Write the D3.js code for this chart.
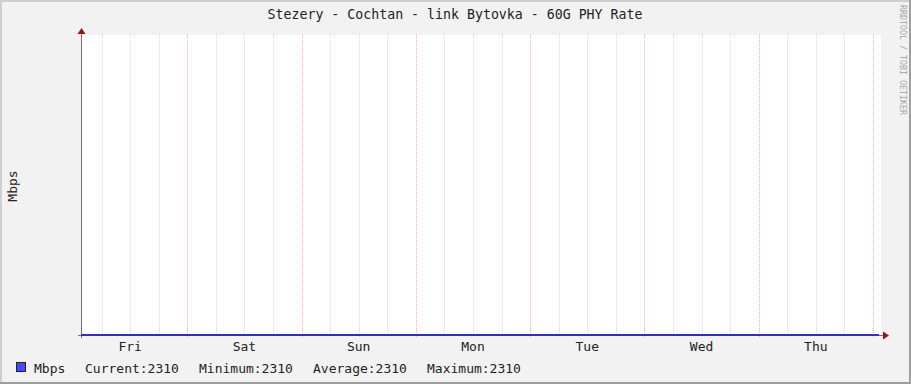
<!DOCTYPE html>
<meta charset="utf-8">

<head>
    <style>
        body {
            margin: 0;
            background: #fff;
        }

        svg {
            display: block;
        }

        text {
            font-family: "DejaVu Sans Mono", monospace;
            fill: #000;
        }
    </style>
    <script src="https://d3js.org/d3.v7.min.js"></script>
</head>

<body>
    <script>
        // chart data
        const title = "Stezery - Cochtan - link Bytovka - 60G PHY Rate"
        const yLabel = "Mbps"
        const dayLabels = ["Fri", "Sat", "Sun", "Mon", "Tue", "Wed", "Thu"]
        const sampleTimes = [
            "2024-01-05T01:41Z", "2024-01-06T01:41Z", "2024-01-07T01:41Z", "2024-01-08T01:41Z",
            "2024-01-09T01:41Z", "2024-01-10T01:41Z", "2024-01-11T01:41Z", "2024-01-12T01:15Z"
        ]
        const sampleValues = [2310, 2310, 2310, 2310, 2310, 2310, 2310, 2310]
        const timeDomain = ["2024-01-05T01:41Z", "2024-01-12T01:41Z"]
        const yDomain = [2310, 2320]
        const legendItems = ["Current:2310", "Minimum:2310", "Average:2310", "Maximum:2310"]

        const width = 911
        const height = 384
        const margin = { top: 35, right: 30, bottom: 49, left: 81 }
        const innerWidth = width - margin.left - margin.right
        const innerHeight = height - margin.top - margin.bottom

        const parse = d3.utcParse("%Y-%m-%dT%H:%MZ")
        const points = sampleTimes.map((t, i) => ({ t: parse(t), v: sampleValues[i] }))

        const x = d3.scaleUtc()
            .domain(timeDomain.map(parse))
            .range([0, innerWidth])

        const y = d3.scaleLinear()
            .domain(yDomain)
            .range([innerHeight, 0])

        const svg = d3.select("body").append("svg")
            .attr("width", width)
            .attr("height", height)

        // background + borders
        svg.append("rect").attr("width", width).attr("height", height).attr("fill", "#f2f2f2")
        svg.append("rect").attr("x", 0).attr("y", 0).attr("width", width).attr("height", 2).attr("fill", "#cfcfcf")
        svg.append("rect").attr("x", 0).attr("y", 0).attr("width", 2).attr("height", height).attr("fill", "#cfcfcf")
        svg.append("rect").attr("x", width - 2).attr("y", 0).attr("width", 2).attr("height", height).attr("fill", "#9e9e9e")
        svg.append("rect").attr("x", 0).attr("y", height - 2).attr("width", width).attr("height", 2).attr("fill", "#9e9e9e")

        svg.append("text")
            .attr("x", 455)
            .attr("y", 19)
            .attr("text-anchor", "middle")
            .style("font-size", "13.25px")
            .style("fill", "#222")
            .text(title)

        svg.append("text")
            .attr("transform", "translate(16.5,186) rotate(-90)")
            .attr("text-anchor", "middle")
            .style("font-size", "13px")
            .style("fill", "#222")
            .text(yLabel)

        svg.append("text")
            .attr("transform", "translate(900,5) rotate(90)")
            .style("font-size", "8.3px")
            .style("fill", "#a8a8a8")
            .text("RRDTOOL / TOBI OETIKER")

        const g = svg.append("g")
            .attr("transform", `translate(${margin.left},${margin.top})`)

        g.append("rect")
            .attr("width", innerWidth)
            .attr("height", innerHeight)
            .attr("fill", "#fff")

        // grid
        const minorTicks = x.ticks(d3.utcHour.every(6)).filter(d => d.getUTCHours() != 0)
        const majorTicks = x.ticks(d3.utcDay.every(1))

        g.selectAll(".minor")
            .data(minorTicks)
            .enter()
            .append("line")
            .attr("x1", d => Math.round(x(d)) + 0.5)
            .attr("x2", d => Math.round(x(d)) + 0.5)
            .attr("y1", -1)
            .attr("y2", innerHeight + 3)
            .attr("stroke", "#dadada")
            .attr("stroke-dasharray", "1,1")

        g.selectAll(".major")
            .data(majorTicks)
            .enter()
            .append("line")
            .attr("x1", d => Math.round(x(d)) + 0.5)
            .attr("x2", d => Math.round(x(d)) + 0.5)
            .attr("y1", -1)
            .attr("y2", innerHeight + 3)
            .attr("stroke", "#f4aaaa")
            .attr("stroke-dasharray", "1,1")

        // day labels at noon
        const noons = x.ticks(d3.utcDay.every(1)).map(d => d3.utcHour.offset(d, -12))
        g.selectAll(".day")
            .data(noons)
            .enter()
            .append("text")
            .attr("x", d => x(d))
            .attr("y", innerHeight + 16)
            .attr("text-anchor", "middle")
            .style("font-size", "13px")
            .style("fill", "#222")
            .text((d, i) => dayLabels[i])

        // axes
        g.append("line")
            .attr("x1", 0.5).attr("x2", 0.5)
            .attr("y1", -2).attr("y2", innerHeight + 3)
            .attr("stroke", "#707070")
        g.append("line")
            .attr("x1", -3).attr("x2", innerWidth + 3)
            .attr("y1", innerHeight + 0.5).attr("y2", innerHeight + 0.5)
            .attr("stroke", "#707070")

        // data line
        const line = d3.line()
            .x(d => x(d.t))
            .y(d => y(d.v))

        g.append("path")
            .datum(points)
            .attr("d", line)
            .attr("fill", "none")
            .attr("stroke", "#3030b8")
            .attr("stroke-width", 2)

        // arrows
        g.append("path")
            .attr("d", "M-3.5,-1 L4.5,-1 L0.5,-7 Z")
            .attr("fill", "#9b1010")
        g.append("path")
            .attr("d", `M${innerWidth + 2},${innerHeight - 3.5} L${innerWidth + 2},${innerHeight + 4.5} L${innerWidth + 8},${innerHeight + 0.5} Z`)
            .attr("fill", "#9b1010")

        // legend
        svg.append("rect")
            .attr("x", 16.5).attr("y", 362.5)
            .attr("width", 9).attr("height", 9)
            .attr("fill", "#4848ff")
            .attr("stroke", "#222")

        svg.append("text")
            .attr("x", 34)
            .attr("y", 373)
            .style("font-size", "13px")
            .style("fill", "#222")
            .text(yLabel)

        svg.selectAll(".leg")
            .data(legendItems)
            .enter()
            .append("text")
            .attr("x", (d, i) => 85 + i * 114)
            .attr("y", 373)
            .style("font-size", "13px")
            .style("fill", "#222")
            .text(d => d)
    </script>
</body>
